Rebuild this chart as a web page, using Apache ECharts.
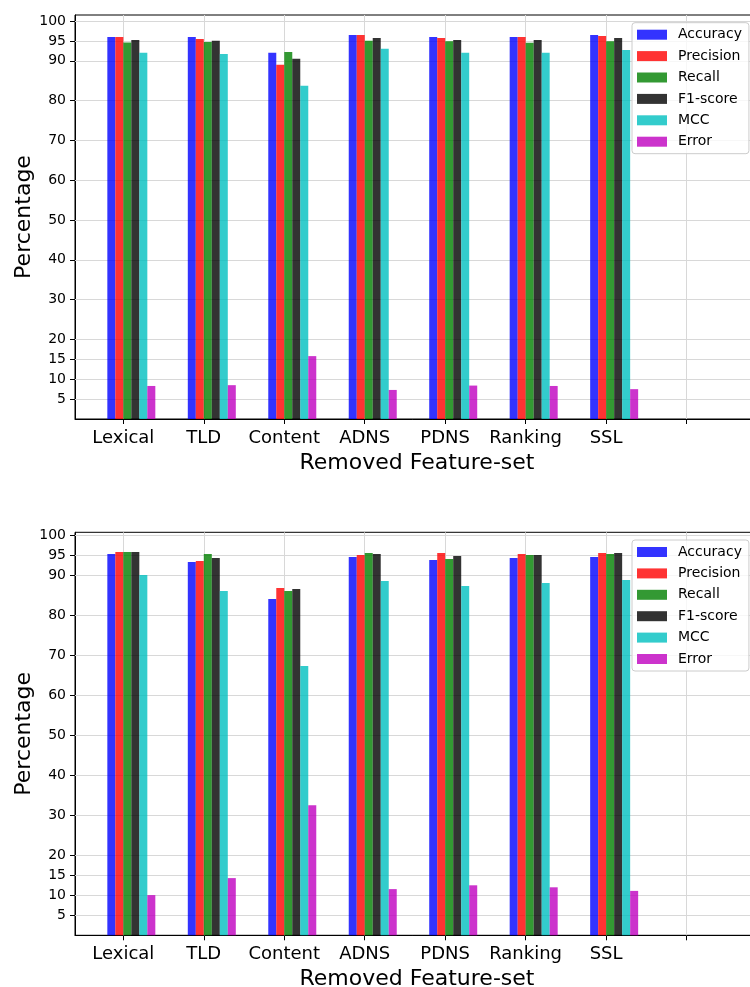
<!DOCTYPE html>
<html>
<head>
<meta charset="utf-8">
<script src="https://cdn.jsdelivr.net/npm/echarts@6/dist/echarts.min.js"></script>
<style>html,body{margin:0;padding:0;background:#fff;}#c{width:750px;height:987px;}</style>
</head>
<body>
<div id="c"></div>
<script>
// ---- data ----
const categories = ['Lexical', 'TLD', 'Content', 'ADNS', 'PDNS', 'Ranking', 'SSL', ''];
const seriesNames = ['Accuracy', 'Precision', 'Recall', 'F1-score', 'MCC', 'Error'];
const yTickValues = [5, 10, 15, 20, 30, 40, 50, 60, 70, 80, 90, 95, 100];

// top chart
const topAccuracy  = [96.0, 96.0, 92.0, 96.5, 96.0, 96.0, 96.5];
const topPrecision = [96.0, 95.5, 89.0, 96.5, 95.75, 96.0, 96.25];
const topRecall    = [94.6, 94.7, 92.2, 95.0, 94.9, 94.5, 94.9];
const topF1        = [95.25, 95.0, 90.5, 95.7, 95.25, 95.25, 95.75];
const topMCC       = [92.0, 91.7, 83.7, 93.0, 92.0, 92.0, 92.7];
const topError     = [8.3, 8.5, 15.8, 7.3, 8.4, 8.3, 7.5];

// bottom chart
const botAccuracy  = [95.3, 93.3, 84.05, 94.55, 93.8, 94.3, 94.55];
const botPrecision = [95.8, 93.55, 86.8, 95.05, 95.55, 95.3, 95.55];
const botRecall    = [95.8, 95.3, 86.05, 95.55, 94.05, 95.05, 95.3];
const botF1        = [95.8, 94.3, 86.55, 95.3, 94.8, 95.05, 95.55];
const botMCC       = [90.05, 86.05, 67.3, 88.55, 87.3, 88.05, 88.8];
const botError     = [10.05, 14.3, 32.5, 11.55, 12.5, 12.0, 11.1];

const colors = ['rgba(0,0,255,0.8)', 'rgba(255,0,0,0.8)', 'rgba(0,128,0,0.8)',
                'rgba(0,0,0,0.8)', 'rgba(0,191,191,0.8)', 'rgba(191,0,191,0.8)'];

const topData = [topAccuracy, topPrecision, topRecall, topF1, topMCC, topError];
const botData = [botAccuracy, botPrecision, botRecall, botF1, botMCC, botError];

const FONT = 'DejaVu Sans';
const xTickValues = categories.map((c, i) => i);

function makeXAxis(gi) {
  return {
    type: 'value', gridIndex: gi, min: -0.6, max: 7.9,
    name: 'Removed Feature-set', nameLocation: 'middle', nameGap: 33,
    nameTextStyle: {fontFamily: FONT, fontSize: 22, color: '#000'},
    axisLine: {show: true, onZero: false, lineStyle: {color: '#000', width: 1}},
    axisTick: {show: true, customValues: xTickValues, length: 5, lineStyle: {color: '#000'}},
    axisLabel: {show: true, customValues: xTickValues, margin: 10,
      fontFamily: FONT, fontSize: 18, color: '#000',
      formatter: v => categories[Math.round(v)] || ''},
    splitLine: {show: false}
  };
}
function makeYAxis(gi, max) {
  return {
    type: 'value', gridIndex: gi, min: 0, max: max,
    name: 'Percentage', nameLocation: 'middle', nameGap: 40, nameMoveOverlap: false,
    nameTextStyle: {fontFamily: FONT, fontSize: 22, color: '#000'},
    axisLine: {show: true, onZero: false, lineStyle: {color: '#000', width: 1}},
    axisTick: {show: true, customValues: yTickValues, length: 5, lineStyle: {color: '#000'}},
    axisLabel: {show: true, customValues: yTickValues, margin: 9,
      fontFamily: FONT, fontSize: 14, color: '#000'},
    splitLine: {show: false}
  };
}
function gridSeries(gi) {
  return {
    type: 'line', xAxisIndex: gi, yAxisIndex: gi, data: [], z: 1, silent: true,
    markLine: {
      z: 1, silent: true, symbol: 'none', animation: false,
      label: {show: false},
      lineStyle: {color: '#d8d8d8', type: 'solid', width: 1},
      data: yTickValues.map(v => ({yAxis: v})).concat(xTickValues.map(v => ({xAxis: v})))
    }
  };
}
function barSeries(gi, dataSets) {
  return seriesNames.map((name, k) => ({
    type: 'bar', name: name, xAxisIndex: gi, yAxisIndex: gi,
    barWidth: 8, barGap: '0%', z: 2,
    itemStyle: {color: colors[k]},
    data: dataSets[k].map((v, i) => [i + 0.1, v])
  }));
}
function makeLegend(top) {
  return {
    left: 632, top: top, orient: 'vertical', z: 10,
    data: seriesNames,
    itemWidth: 30, itemHeight: 10, itemGap: 7.4,
    icon: 'rect',
    padding: [5, 7, 5, 5],
    backgroundColor: 'rgba(255,255,255,0.8)',
    borderColor: '#cccccc', borderWidth: 1, borderRadius: 3,
    textStyle: {fontFamily: FONT, fontSize: 14, color: '#000', lineHeight: 14, padding: [0, 0, 0, 6]},
    selectedMode: false
  };
}

const chart = echarts.init(document.getElementById('c'), null, {renderer: 'canvas'});
chart.setOption({
  animation: false,
  backgroundColor: '#fff',
  color: colors,
  grid: [
    {left: 75, top: 15, width: 684, height: 404, show: true, borderColor: '#000', borderWidth: 1,
     backgroundColor: 'transparent', containLabel: false, outerBoundsMode: 'none'},
    {left: 75, top: 532.3, width: 684, height: 403, show: true, borderColor: '#000', borderWidth: 1,
     backgroundColor: 'transparent', containLabel: false, outerBoundsMode: 'none'}
  ],
  legend: [makeLegend(22.7), makeLegend(540)],
  xAxis: [makeXAxis(0), makeXAxis(1)],
  yAxis: [makeYAxis(0, 101.5), makeYAxis(1, 100.75)],
  series: [gridSeries(0), gridSeries(1)].concat(barSeries(0, topData), barSeries(1, botData))
});
</script>
</body>
</html>
